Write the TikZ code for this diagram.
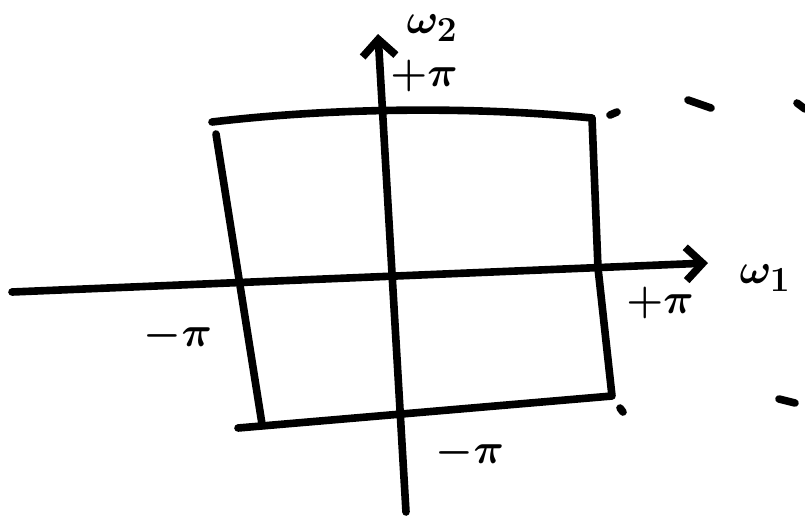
\documentclass[tikz,border=0pt]{standalone}
\usepackage{amsmath,amssymb}
\usepackage{graphicx}
\usepackage{tikz}
\usetikzlibrary{arrows.meta,positioning,calc}

\newcommand{\hlab}[1]{\scalebox{1.45}{\Huge\boldmath$#1$}}

\begin{document}
\begin{tikzpicture}[
  x=0.03cm, y=-0.03cm,
  axis/.style={line width=6.5pt, line cap=round, -{Straight Barb[length=5mm,width=10mm,line width=6.5pt]}},
  box/.style={line width=6.5pt, line cap=round, line join=round},
  lbl/.style={inner sep=1pt},
  tick/.style={line width=6.5pt, line cap=round}
]
  \useasboundingbox (0,0) rectangle (805,519);

  % corners of the square
  \coordinate (tl) at (212,122);
  \coordinate (tr) at (592,118);
  \coordinate (br) at (612,396);
  \coordinate (bl) at (238,428);

  % axes end points
  \coordinate (w1s) at (12,292);
  \coordinate (w1e) at (708,263);
  \coordinate (w2s) at (406,512);
  \coordinate (w2e) at (378,34);

  \draw[box] (tl) .. controls (330,108) and (470,106) .. (tr)
             -- (598,268) -- (br) -- (bl);
  \draw[box] (216,134) -- (262,424);

  \draw[axis] (w1s) -- (w1e);
  \draw[axis] (w2s) -- (w2e);

  \node[lbl] (w2)  at (432,28)  {\hlab{\omega_2}};
  \node[lbl] (pt)  at (424,76)  {\hlab{+\pi}};
  \node[lbl] (w1)  at (765,278) {\hlab{\omega_1}};
  \node[lbl] (pr)  at (660,303) {\hlab{+\pi}};
  \node[lbl] (pl)  at (178,336) {\hlab{-\pi}};
  \node[lbl] (pb)  at (470,453) {\hlab{-\pi}};

  % stray marks of the next period
  \draw[tick] (610,115) -- (617,112);
  \draw[tick] (688,100) -- (711,108);
  \draw[tick] (797,103) -- (805,109);
  \draw[tick] (620,408) -- (623,412);
  \draw[tick] (779,399) -- (795,403);
\end{tikzpicture}
\end{document}
